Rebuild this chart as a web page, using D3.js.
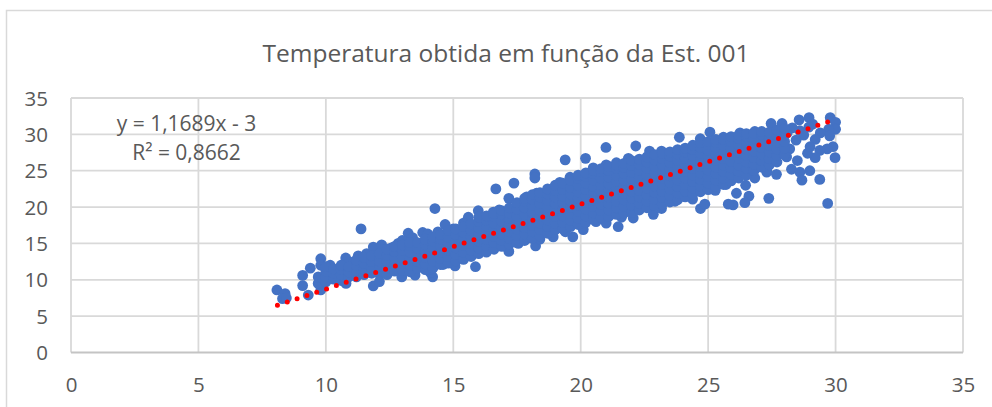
<!DOCTYPE html>
<html><head><meta charset="utf-8">
<script src="https://cdn.jsdelivr.net/npm/d3@7"></script>
<style>html,body{margin:0;padding:0;background:#fff;overflow:hidden}svg{display:block}text{font-family:"Open Sans",sans-serif;fill:#595959}</style>
</head><body><svg id="c" width="992" height="407"></svg>
<script>
const titleText = "Temperatura obtida em função da Est. 001";
const equationLines = ["y = 1,1689x - 3", "R² = 0,8662"];
const xTicks = [0,5,10,15,20,25,30,35];
const yTicks = [0,5,10,15,20,25,30,35];
const trendX = [8.1, 29.7];
const trendY = [6.5, 31.7];
// scattered points at the edges of the cloud
const edgeX = [8.08,8.4,8.3,8.45,9.31,9.09,9.09,9.39,9.8,9.8,10.17,9.8,9.7,9.7,9.85,10.78,11.38,11.86,12.1,10.79,14.28,16.67,17.38,18.2,18.2,19.39,20.19,20.99,22.16,21.47,19.69,12.98,14.19,14.1,15.87,18.23,17.18,23.87,25.07,27.47,28.57,28.96,29.79,30.0,30.0,29.73,29.77,29.9,29.67,29.38,29.2,29.98,28.5,28.27,28.6,28.99,28.68,29.38,29.69,27.38,26.6,26.44,25.98,25.79,24.7,24.87,24.39,26.47,27.68,27.3,26.83,26.11,28.08,28.2,28.9,29.4,29.2,29,29.1,27.9,28.6,28.95,28.3,28.75,28.45,28.1];
const edgeY = [8.6,8.1,7.4,7.5,7.9,9.2,10.6,11.6,12.9,12.0,12.0,8.6,9.5,10.4,10.3,13.0,17.0,9.15,9.75,9.5,19.8,22.5,23.3,24.55,24.0,26.5,26.7,28.2,28.4,17.3,15.9,10.4,10.4,11.0,11.8,14.65,13.9,29.6,30.3,31.5,32,32.3,32.3,31.65,30.7,30.7,29.8,28.3,28,27.8,26.8,26.8,26.4,25.2,24.8,25.0,23.7,23.8,20.5,21.2,21.5,20.6,20.3,20.4,19.8,20.4,21.1,23,24.5,24.8,24,21.9,26.9,28,27.4,30.2,29.3,28.3,31.4,31.5,30.5,31,30.9,29.9,29.2,30.2];
// bumps along the upper and lower rim of the cloud
const rimX = [11.27,11.6,11.86,12.19,12.57,12.84,11.1,13.23,13.8,14.68,15.0,15.59,15.98,16.57,17.18,17.88,18.27,18.72,19.18,19.58,20.49,21.0,21.4,21.87,22.7,23.17,24.69,25.6,26.25,26.83,13.5,14.08,14.6,15.07,16.3,17.55,18.92,20.1,21.0,22.06,22.85,23.17,23.7,24.0,25.28,25.7,27.3,11.2,13.0,13.4,14.0,14.4,15.4,16.8,18.4,19.4,20.6,21.6];
const rimY = [13.3,13.6,14.5,14.8,14.4,15.0,12.5,16.4,16.5,17.6,17.0,18.6,19.5,19.3,21.2,21.4,21.9,22.3,23.4,24.1,25.4,25.8,26.1,26.7,27.7,27.7,29.4,29.6,30.2,30.4,10.65,11.4,12.1,11.9,13.9,15.0,15.9,16.9,17.8,18.5,19.0,19.8,20.8,21.5,22.3,23.1,25.1,12.5,15.4,15.8,16.3,16.6,17.8,19.6,15.6,16.6,18.0,18.6];
// the dense cloud, read as vertical strips: one x, several y
const stripX = [10.0,10.3,10.6,10.9,11.2,11.5,11.8,12.1,12.4,12.7,13.0,13.3,13.6,13.9,14.2,14.5,14.8,15.1,15.4,15.7,16.0,16.3,16.6,16.9,17.2,17.5,17.8,18.1,18.4,18.7,19.0,19.3,19.6,19.9,20.2,20.5,20.8,21.1,21.4,21.7,22.0,22.3,22.6,22.9,23.2,23.5,23.8,24.1,24.4,24.7,25.0,25.3,25.6,25.9,26.2,26.5,26.8,27.1,27.4,27.7,28.0];
const stripY = [
[9.7,10.4,11.2,11.8],
[10.1,10.9,11.5],
[9.9,10.7,11.4,12.0],
[10.4,11.1,11.8],
[10.4,11.3,12.0,12.7],
[10.7,11.5,12.3,13.1],
[10.9,11.7,12.5,13.3],
[10.8,11.8,12.6,13.6],
[10.7,11.6,12.5,13.4,14.2],
[11.2,12.1,13.0,13.9,14.6],
[11.3,12.2,13.1,14.0,14.8],
[11.1,12.0,12.9,13.8,14.7,15.1],
[11.6,12.5,13.4,14.3,15.1],
[11.4,12.2,13.1,14.0,14.9,15.6],
[11.6,12.6,13.5,14.4,15.3,15.9],
[12.1,12.9,13.8,14.7,15.6,16.2],
[12.3,13.2,14.1,15.0,15.9,16.8],
[12.6,13.5,14.4,15.3,16.2,17.0],
[12.8,13.8,14.7,15.6,16.5,17.3],
[13.2,14.1,15.0,15.9,16.8,17.7],
[13.6,14.4,15.3,16.2,17.1,18.0,18.6],
[13.8,14.7,15.6,16.5,17.4,18.2,18.8],
[14.2,15.1,16.0,16.9,17.8,18.7,19.1],
[14.6,15.4,16.3,17.2,18.1,19.0,19.5],
[14.9,15.7,16.6,17.5,18.4,19.2,19.9],
[15.1,16.1,17.0,17.9,18.8,19.7,20.6],
[15.4,16.3,17.2,18.1,19.0,19.9,20.8,21.2],
[15.7,16.6,17.5,18.4,19.3,20.2,21.1,21.7],
[16.0,16.9,17.8,18.7,19.6,20.5,21.4,22.0],
[16.4,17.3,18.2,19.1,20.0,20.9,21.8,22.5],
[16.9,17.8,18.7,19.6,20.5,21.4,22.3,23.0],
[17.0,17.9,18.8,19.7,20.6,21.5,22.4,23.3],
[17.3,18.2,19.1,20.0,20.9,21.8,22.7,23.7],
[17.6,18.5,19.4,20.3,21.2,22.1,23.0,23.9,24.4],
[17.9,18.8,19.7,20.6,21.5,22.4,23.3,24.2,24.7],
[18.3,19.2,20.1,21.0,21.9,22.8,23.7,24.6,25.0],
[18.6,19.5,20.4,21.3,22.2,23.1,24.0,24.9,25.3],
[18.7,19.6,20.5,21.4,22.3,23.2,24.1,25.0,25.6],
[19.0,19.9,20.8,21.7,22.6,23.5,24.4,25.3,25.8],
[19.2,20.1,21.0,21.9,22.8,23.7,24.6,25.5,26.0],
[19.3,20.3,21.2,22.1,23.0,23.9,24.8,25.7,26.4],
[19.6,20.5,21.4,22.3,23.2,24.1,25.0,25.9,26.6],
[19.9,20.8,21.7,22.6,23.5,24.4,25.3,26.2,26.9],
[20.2,21.1,22.0,22.9,23.8,24.7,25.6,26.5,27.2],
[20.4,21.3,22.2,23.1,24.0,24.9,25.8,26.7,27.4],
[20.7,21.6,22.5,23.4,24.3,25.2,26.1,27.0,27.6],
[21.0,21.9,22.8,23.7,24.6,25.5,26.4,27.3,27.9],
[21.4,22.2,23.1,24.0,24.9,25.8,26.7,27.6,28.1],
[21.8,22.6,23.5,24.4,25.3,26.2,27.1,27.9,28.5],
[22.1,22.9,23.8,24.7,25.6,26.5,27.4,28.2,28.9],
[22.4,23.3,24.2,25.1,26.0,26.9,27.8,28.6,29.0],
[22.8,23.7,24.6,25.5,26.4,27.3,28.2,28.9,29.3],
[23.1,24.0,24.9,25.8,26.7,27.6,28.5,29.3],
[23.6,24.5,25.4,26.3,27.2,28.1,29.0,29.7],
[24.0,24.9,25.8,26.7,27.6,28.5,29.4,29.9],
[24.4,25.3,26.2,27.1,28.0,28.9,29.7,30.1],
[25.0,25.9,26.8,27.7,28.6,29.5,30.2],
[25.5,26.4,27.3,28.2,29.1,30.0,30.4],
[25.8,26.7,27.6,28.5,29.4,30.3],
[26.2,27.1,28.0,28.9,29.8,30.6],
[27.2,28.1,29.0,29.9,30.8]
];

const svg = d3.select("#c");
const x = d3.scaleLinear().domain([0,35]).range([71,963]);
const y = d3.scaleLinear().domain([0,35]).range([352.5,98]);
const grid = "#d9d9d9";

svg.append("rect").attr("x",6.5).attr("y",10.5).attr("width",1000).attr("height",420)
  .attr("fill","#fff").attr("stroke",grid).attr("stroke-width",1.5);

svg.append("g").selectAll("line").data(xTicks).join("line")
  .attr("x1",d=>x(d)).attr("x2",d=>x(d)).attr("y1",y(35)).attr("y2",y(0))
  .attr("stroke",grid).attr("stroke-width",1.8);
svg.append("g").selectAll("line").data(yTicks).join("line")
  .attr("x1",x(0)).attr("x2",x(35)).attr("y1",d=>y(d)).attr("y2",d=>y(d))
  .attr("stroke",d=>d===0?"#c4c4c4":grid).attr("stroke-width",1.8);

const xAxis = d3.axisBottom(x).tickValues(xTicks).tickSize(0).tickPadding(0);
const gx = svg.append("g").attr("transform",`translate(0,${y(0)})`).call(xAxis);
gx.select(".domain").remove();
gx.selectAll("text").attr("dy",0).attr("y",39).style("font-size","20.5px");
const yAxis = d3.axisLeft(y).tickValues(yTicks).tickSize(0).tickPadding(0);
const gy = svg.append("g").attr("transform",`translate(${x(0)},0)`).call(yAxis);
gy.select(".domain").remove();
gy.selectAll("text").attr("x",-23).attr("dy",7).style("font-size","20.5px");

const pts = [];
edgeX.forEach((v,i)=>pts.push([v,edgeY[i]]));
rimX.forEach((v,i)=>pts.push([v,rimY[i]]));
stripX.forEach((v,i)=>stripY[i].forEach(w=>pts.push([v,w])));
svg.append("g").selectAll("circle").data(pts).join("circle")
  .attr("cx",d=>x(d[0])).attr("cy",d=>y(d[1])).attr("r",5.4).attr("fill","#4472c4");

svg.append("path").attr("d",d3.line().x(d=>x(d[0])).y(d=>y(d[1]))(trendX.map((v,i)=>[v,trendY[i]])))
  .attr("fill","none").attr("stroke","#ff0000").attr("stroke-width",5)
  .attr("stroke-linecap","round").attr("pathLength",56).attr("stroke-dasharray","0 0.9995");

svg.append("text").attr("x",506).attr("y",62).attr("text-anchor","middle").style("font-size","24.5px").text(titleText);
svg.selectAll("text.eq").data(equationLines).join("text").attr("class","eq")
  .attr("x",186.5).attr("y",(d,i)=>131+i*29).attr("text-anchor","middle").style("font-size","21px").text(d=>d);
</script></body></html>
